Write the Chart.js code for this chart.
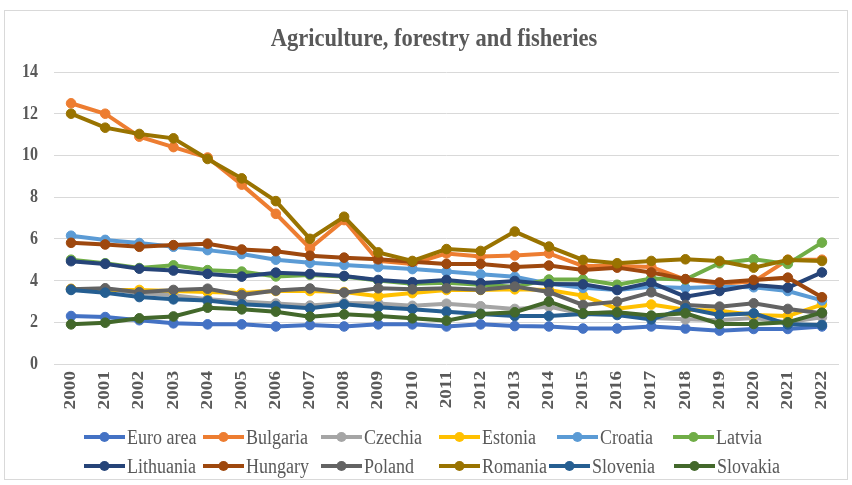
<!DOCTYPE html>
<html>
<head>
<meta charset="utf-8">
<script src="https://cdn.jsdelivr.net/npm/chart.js@4/dist/chart.umd.min.js"></script>
<style>
  html, body { margin: 0; padding: 0; background: #ffffff; }
  #frame {
    position: absolute; left: 4px; top: 10px;
    width: 842px; height: 468px;
    border: 1px solid #d9d9d9;
  }
  #chart { display: block; }
</style>
</head>
<body>
<div id="frame"><canvas id="chart" width="842" height="468"></canvas></div>
<script>
// Share of agriculture, forestry and fisheries (%), 2000-2022
const chartTitle = 'Agriculture, forestry and fisheries';
const years = ['2000','2001','2002','2003','2004','2005','2006','2007','2008','2009','2010',
  '2011','2012','2013','2014','2015','2016','2017','2018','2019','2020','2021','2022'];
const yTicks = [0, 2, 4, 6, 8, 10, 12, 14];

const euroArea  = [2.30, 2.25, 2.10, 1.95, 1.90, 1.90, 1.80, 1.87, 1.80, 1.90, 1.90, 1.80, 1.90, 1.82, 1.80, 1.70, 1.70, 1.80, 1.70, 1.60, 1.68, 1.68, 1.80];
const bulgaria  = [12.5, 12.0, 10.9, 10.4, 9.90, 8.60, 7.20, 5.55, 6.90, 4.95, 4.80, 5.30, 5.15, 5.20, 5.30, 4.70, 4.70, 4.65, 4.05, 3.85, 3.95, 5.00, 5.00];
const czechia   = [3.60, 3.60, 3.40, 3.30, 3.10, 3.00, 2.90, 2.80, 2.92, 2.90, 2.79, 2.89, 2.77, 2.64, 2.75, 2.40, 2.50, 2.20, 2.14, 2.10, 2.20, 2.00, 2.24];
const estonia   = [3.60, 3.55, 3.55, 3.50, 3.45, 3.40, 3.50, 3.50, 3.45, 3.25, 3.40, 3.55, 3.55, 3.58, 3.55, 3.28, 2.65, 2.85, 2.60, 2.55, 2.35, 2.30, 2.85];
const croatia   = [6.15, 5.95, 5.80, 5.62, 5.46, 5.27, 5.00, 4.85, 4.75, 4.65, 4.55, 4.43, 4.30, 4.18, 3.85, 3.65, 3.55, 3.70, 3.64, 3.70, 3.68, 3.50, 3.05];
const latvia    = [5.00, 4.83, 4.60, 4.73, 4.50, 4.43, 4.20, 4.27, 4.20, 4.00, 3.85, 3.90, 3.80, 3.70, 4.05, 4.05, 3.80, 4.10, 4.05, 4.83, 5.02, 4.80, 5.82];
const lithuania = [4.93, 4.80, 4.57, 4.48, 4.32, 4.19, 4.38, 4.32, 4.22, 4.03, 3.92, 4.03, 3.87, 3.98, 3.83, 3.82, 3.55, 3.90, 3.23, 3.50, 3.79, 3.66, 4.39];
const hungary   = [5.81, 5.73, 5.62, 5.70, 5.77, 5.49, 5.41, 5.19, 5.10, 5.02, 4.90, 4.80, 4.80, 4.65, 4.72, 4.51, 4.62, 4.39, 4.07, 3.91, 4.03, 4.14, 3.20];
const poland    = [3.58, 3.63, 3.44, 3.55, 3.61, 3.31, 3.52, 3.62, 3.42, 3.63, 3.58, 3.63, 3.56, 3.71, 3.45, 2.83, 2.99, 3.44, 2.83, 2.75, 2.91, 2.64, 2.43];
const romania   = [12.0, 11.33, 11.03, 10.82, 9.83, 8.90, 7.81, 6.00, 7.06, 5.35, 4.94, 5.51, 5.42, 6.35, 5.63, 4.99, 4.83, 4.94, 5.02, 4.94, 4.62, 4.99, 4.94];
const slovenia  = [3.55, 3.42, 3.21, 3.10, 3.04, 2.86, 2.78, 2.67, 2.86, 2.72, 2.63, 2.51, 2.40, 2.30, 2.30, 2.40, 2.35, 2.14, 2.67, 2.35, 2.43, 1.90, 1.87];
const slovakia  = [1.90, 1.98, 2.19, 2.28, 2.70, 2.62, 2.51, 2.27, 2.38, 2.30, 2.19, 2.08, 2.40, 2.48, 2.99, 2.43, 2.48, 2.32, 2.43, 1.92, 1.92, 2.00, 2.46];

const seriesNames = ['Euro area','Bulgaria','Czechia','Estonia','Croatia','Latvia',
  'Lithuania','Hungary','Poland','Romania','Slovenia','Slovakia'];
const seriesValues = [euroArea, bulgaria, czechia, estonia, croatia, latvia,
  lithuania, hungary, poland, romania, slovenia, slovakia];
const seriesColors = ['#4472C4','#ED7D31','#A5A5A5','#FFC000','#5B9BD5','#70AD47',
  '#264478','#9E480E','#636363','#997300','#255E91','#43682B'];

const textColor = '#595959';
const serif = '"Liberation Serif", "Times New Roman", serif';
const stretch = 1.2; // tall, narrow lettering

// later series are painted over earlier ones
const datasets = seriesNames.map((name, i) => ({
  label: name,
  data: seriesValues[i],
  borderColor: seriesColors[i],
  backgroundColor: seriesColors[i],
  pointBackgroundColor: seriesColors[i],
  pointBorderColor: seriesColors[i],
  borderWidth: 4,
  pointRadius: 4.8,
  pointBorderWidth: 1,
  tension: 0,
  order: seriesNames.length - i
}));

// legend layout: two rows of six entries
const legendRows = [
  { y: 426, xs: [79, 198, 316, 434, 552, 668] },
  { y: 455, xs: [79, 198, 316, 434, 544, 669] }
];

const textPlugin = {
  id: 'textLayer',
  afterDraw(chart) {
    const ctx = chart.ctx;
    const xs = chart.scales.x, ys = chart.scales.y;
    ctx.save();
    ctx.fillStyle = textColor;

    // title
    ctx.save();
    ctx.font = 'bold 22.5px ' + serif;
    ctx.textAlign = 'center';
    ctx.textBaseline = 'alphabetic';
    ctx.translate(429, 35);
    ctx.scale(1, 1.1);
    ctx.fillText(chartTitle, 0, 0);
    ctx.restore();

    // value axis labels
    ctx.font = 'bold 16px ' + serif;
    yTicks.forEach(v => {
      ctx.save();
      ctx.translate(33, ys.getPixelForValue(v));
      ctx.scale(1, stretch);
      ctx.textAlign = 'right';
      ctx.textBaseline = 'middle';
      ctx.fillText(String(v), 0, 0);
      ctx.restore();
    });

    // year labels, rotated
    ctx.font = 'bold 16px ' + serif;
    years.forEach((yr, i) => {
      ctx.save();
      ctx.translate(xs.getPixelForValue(i), chart.chartArea.bottom + 7);
      ctx.rotate(-Math.PI / 2);
      ctx.scale(stretch, 1);
      ctx.textAlign = 'right';
      ctx.textBaseline = 'middle';
      ctx.fillText(yr, 0, 0);
      ctx.restore();
    });

    // legend
    ctx.font = '18px ' + serif;
    seriesNames.forEach((name, i) => {
      const row = legendRows[Math.floor(i / 6)];
      const x = row.xs[i % 6], y = row.y;
      ctx.strokeStyle = seriesColors[i];
      ctx.lineWidth = 4;
      ctx.beginPath();
      ctx.moveTo(x, y);
      ctx.lineTo(x + 41, y);
      ctx.stroke();
      ctx.fillStyle = seriesColors[i];
      ctx.beginPath();
      ctx.arc(x + 20.5, y, 5, 0, Math.PI * 2);
      ctx.fill();
      ctx.fillStyle = textColor;
      ctx.save();
      ctx.translate(x + 43, y);
      ctx.scale(1, stretch);
      ctx.textAlign = 'left';
      ctx.textBaseline = 'middle';
      ctx.fillText(name, 0, 1);
      ctx.restore();
    });
    ctx.restore();
  }
};

new Chart(document.getElementById('chart'), {
  type: 'line',
  data: { labels: years, datasets },
  options: {
    responsive: false,
    animation: false,
    devicePixelRatio: 1,
    layout: { padding: { top: 61, right: 8, left: 0, bottom: 0 } },
    plugins: {
      legend: { display: false },
      title: { display: false },
      tooltip: { enabled: false }
    },
    scales: {
      x: {
        type: 'category',
        offset: true,
        grid: { display: false },
        border: { display: false },
        ticks: { display: false },
        afterFit(scale) { scale.height = 115; }
      },
      y: {
        min: 0,
        max: 14,
        ticks: { display: false, stepSize: 2 },
        grid: { color: '#d9d9d9', lineWidth: 1, drawTicks: false },
        border: { display: false },
        afterFit(scale) { scale.width = 49; }
      }
    }
  },
  plugins: [textPlugin]
});
</script>
</body>
</html>
